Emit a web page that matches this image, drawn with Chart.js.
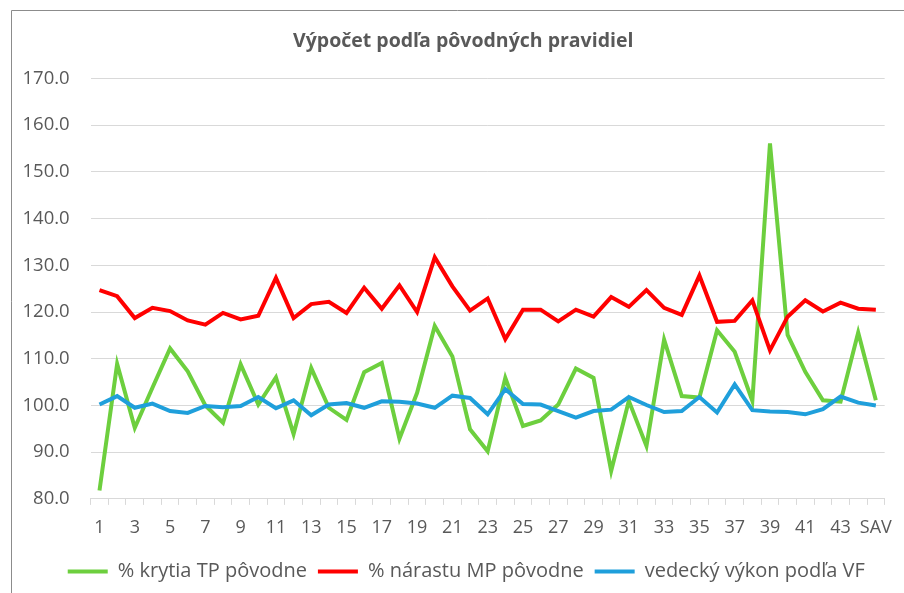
<!DOCTYPE html>
<html>
<head>
<meta charset="utf-8">
<script src="https://cdn.jsdelivr.net/npm/chart.js@4.4.1/dist/chart.umd.min.js"></script>
<style>
html,body{margin:0;padding:0;background:#fff;}
#wrap{position:relative;width:904px;height:593px;}
</style>
</head>
<body>
<div id="wrap"><canvas id="c" width="904" height="593"></canvas></div>
<script>
const categories = ['1','2','3','4','5','6','7','8','9','10','11','12','13','14','15','16','17','18','19','20','21','22','23','24','25','26','27','28','29','30','31','32','33','34','35','36','37','38','39','40','41','42','43','44','SAV'];

const krytiaTP = [81.8,108.9,95.2,103.8,112.2,107.3,100.0,96.3,108.8,100.2,106.0,93.9,108.0,99.5,96.9,107.1,109.1,92.9,102.7,117.0,110.5,94.9,90.2,105.9,95.6,96.8,100.2,107.9,105.9,86.0,101.0,91.3,114.1,102.0,101.7,116.1,111.5,101.0,156.1,115.1,107.2,101.1,100.8,115.6,101.1];

const narastMP = [124.7,123.4,118.7,120.9,120.2,118.2,117.3,119.8,118.4,119.2,127.3,118.7,121.7,122.2,119.8,125.2,120.7,125.7,120.0,131.7,125.5,120.3,122.9,114.2,120.5,120.5,118.0,120.5,119.0,123.2,121.1,124.7,120.9,119.4,127.8,117.9,118.1,122.5,111.8,119.0,122.5,120.1,122.0,120.7,120.5];

const vedeckyVykon = [100.2,102.0,99.5,100.4,98.8,98.4,99.9,99.6,99.9,101.8,99.4,101.1,97.9,100.2,100.5,99.5,100.9,100.8,100.4,99.5,102.1,101.6,98.1,103.5,100.3,100.2,98.8,97.4,98.8,99.1,101.8,100.1,98.6,98.8,101.8,98.5,104.5,99.0,98.7,98.6,98.1,99.2,101.9,100.6,100.0];

const seriesNames = ['% krytia TP pôvodne','% nárastu MP pôvodne','vedecký výkon podľa VF'];
const titleText = 'Výpočet podľa pôvodných pravidiel';

const FONT = 'Open Sans';
const TXT = '#595959';

const frame = {
  id:'frame',
  beforeDraw(chart){
    const ctx = chart.ctx;
    ctx.save();
    ctx.strokeStyle = '#8c8c8c';
    ctx.lineWidth = 1;
    ctx.beginPath();
    ctx.moveTo(11.5, 593);
    ctx.lineTo(11.5, 10.5);
    ctx.lineTo(904, 10.5);
    ctx.stroke();
    ctx.restore();
  }
};

// centre title and legend on the outer frame rather than the padded box
const recentre = {
  id:'recentre',
  afterLayout(chart){
    const shift = (b, d) => { if (b) { b.left += d; b.right += d; } };
    shift(chart.legend, 21);
    shift(chart.titleBlock, 18);
  }
};

new Chart(document.getElementById('c'), {
  type:'line',
  data:{
    labels:categories,
    datasets:[
      {label:seriesNames[0], data:krytiaTP, borderColor:'#6dcf3e', backgroundColor:'#6dcf3e', borderWidth:4, pointRadius:0, tension:0, order:3},
      {label:seriesNames[1], data:narastMP, borderColor:'#ff0000', backgroundColor:'#ff0000', borderWidth:4, pointRadius:0, tension:0, order:2},
      {label:seriesNames[2], data:vedeckyVykon, borderColor:'#1f9fdb', backgroundColor:'#1f9fdb', borderWidth:4, pointRadius:0, tension:0, order:1}
    ]
  },
  options:{
    responsive:false,
    animation:false,
    layout:{padding:{left:1.5,right:15,top:14,bottom:1.5}},
    plugins:{
      title:{display:true,text:titleText,color:TXT,font:{family:FONT,size:19.5,weight:'bold'},padding:{top:16,bottom:25}},
      legend:{
        position:'bottom',
        labels:{
          color:TXT,
          font:{family:FONT,size:20},
          boxWidth:40,
          boxHeight:4,
          padding:11,
          sort:(a,b)=>a.datasetIndex-b.datasetIndex,
          generateLabels(chart){
            return chart.data.datasets.map((ds,i)=>({text:ds.label,fillStyle:ds.borderColor,strokeStyle:ds.borderColor,lineWidth:0,fontColor:TXT,datasetIndex:i,hidden:false}));
          }
        }
      },
      tooltip:{enabled:false}
    },
    scales:{
      x:{
        offset:true,
        grid:{display:true,drawOnChartArea:false,drawTicks:true,tickLength:6,color:'#d9d9d9',offset:true},
        border:{display:true,color:'#d9d9d9',width:1},
        ticks:{autoSkip:false,maxRotation:0,minRotation:0,color:TXT,font:{family:FONT,size:18},padding:12,
          callback:function(v,i){return i%2===0?categories[i]:'';}}
      },
      y:{
        min:80,max:170,
        grid:{color:'#d9d9d9',drawTicks:false,lineWidth:1},
        border:{display:false},
        ticks:{stepSize:10,color:TXT,font:{family:FONT,size:18.5},padding:21,callback:v=>v.toFixed(1)}
      }
    }
  },
  plugins:[frame, recentre]
});
</script>
</body>
</html>
